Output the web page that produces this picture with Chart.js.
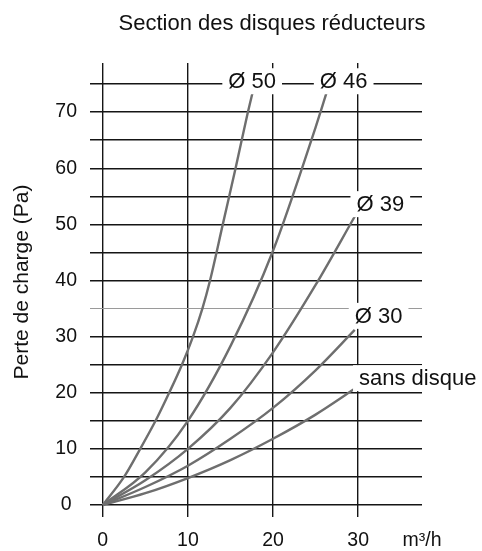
<!DOCTYPE html>
<html>
<head>
<meta charset="utf-8">
<script src="https://cdn.jsdelivr.net/npm/chart.js@4"></script>
<style>
  html, body { margin: 0; padding: 0; background: #fff; }
  #wrap { width: 482px; height: 551px; position: relative; }
</style>
</head>
<body>
<div id="wrap"><canvas id="c"></canvas></div>
<script>
// ---- data ----
const chartTitle = 'Section des disques réducteurs';
const yTitle = 'Perte de charge (Pa)';
const xUnit = 'm³/h';
const seriesNames = ['Ø 50', 'Ø 46', 'Ø 39', 'Ø 30', 'sans disque'];

const flow50 = [0, 2.5, 4.4, 6.2, 7.8, 9.3, 10.6, 11.7, 12.6, 14.1, 15.6, 17.05, 17.6];
const loss50 = [0, 5, 10, 15, 20, 25, 30, 35, 40, 50, 60, 70, 73.5];

const flow46 = [0, 5, 10, 15, 20, 25, 26.3];
const loss46 = [0, 5.8, 15, 28.3, 45.3, 67.3, 73.5];

const flow39 = [0, 5, 10, 15, 20, 25, 29.6];
const loss39 = [0, 4.4, 10, 17.3, 27.2, 39.2, 51.4];

const flow30 = [0, 5, 10, 15, 20, 25, 29.6];
const loss30 = [0, 3.2, 7.0, 11.8, 17.3, 24.0, 31.2];

const flowSans = [0, 5, 10, 15, 20, 25, 29.6];
const lossSans = [0, 2.1, 4.8, 8.0, 11.8, 16.1, 20.7];

const xTicks = [0, 10, 20, 30];
const yTicks = [0, 5, 10, 15, 20, 25, 30, 35, 40, 45, 50, 55, 60, 65, 70, 75];

// ---- build ----
const flows = [flow50, flow46, flow39, flow30, flowSans];
const losses = [loss50, loss46, loss39, loss30, lossSans];
const FONT = "'Liberation Sans', Arial, Helvetica, sans-serif";
const UNIT_POS = 37.5;

// label anchors in data space (centre of each curve label)
const labelAnchors = [[17.55, 75.5], [28.3, 75.5], [32.6, 53.6], [32.4, 33.7], [37.0, 22.6]];

const datasets = seriesNames.map((name, i) => ({
  label: name,
  data: flows[i].map((x, k) => ({ x: x, y: losses[i][k] })),
  borderColor: '#6e6e6e',
  borderWidth: 2.4,
  pointRadius: 0,
  fill: false,
  cubicInterpolationMode: 'monotone'
}));

const labelPlugin = {
  id: 'curveLabels',
  afterDatasetsDraw(chart) {
    const ctx = chart.ctx;
    const xs = chart.scales.x, ys = chart.scales.y;
    ctx.save();
    ctx.font = '22px ' + FONT;
    ctx.textAlign = 'center';
    ctx.textBaseline = 'middle';
    seriesNames.forEach((name, i) => {
      const px = xs.getPixelForValue(labelAnchors[i][0]);
      const py = ys.getPixelForValue(labelAnchors[i][1]);
      const w = ctx.measureText(name).width + 12;
      const h = 26;
      ctx.fillStyle = '#ffffff';
      ctx.fillRect(px - w / 2, py - h / 2, w, h);
      ctx.fillStyle = '#111111';
      ctx.fillText(name, px, py + 1);
    });
    // chart title
    ctx.font = '22px ' + FONT;
    ctx.fillStyle = '#111111';
    ctx.fillText(chartTitle, 272, 24);
    // y axis title
    ctx.font = '21px ' + FONT;
    ctx.translate(22.5, (chart.chartArea.top + chart.chartArea.bottom) / 2 - 8);
    ctx.rotate(-Math.PI / 2);
    ctx.fillText(yTitle, 0, 0);
    ctx.restore();
  }
};

new Chart(document.getElementById('c'), {
  type: 'line',
  data: { datasets: datasets },
  options: {
    responsive: true,
    maintainAspectRatio: false,
    animation: false,
    layout: { padding: { left: 0, right: 60, top: 63, bottom: 0 } },
    plugins: {
      legend: { display: false },
      tooltip: { enabled: false },
      title: { display: false }
    },
    scales: {
      x: {
        type: 'linear',
        min: -1.5,
        max: UNIT_POS,
        afterBuildTicks(scale) {
          scale.ticks = xTicks.concat([UNIT_POS]).map(v => ({ value: v }));
        },
        afterFit(scale) { scale.height = 34; },
        border: { display: false },
        grid: {
          drawTicks: false,
          color: (c) => (c.tick && c.tick.value === UNIT_POS) ? 'rgba(0,0,0,0)' : '#151515',
          lineWidth: 1.4
        },
        ticks: {
          autoSkip: false,
          maxRotation: 0,
          padding: 12,
          color: '#111',
          font: { family: FONT, size: 19.5 },
          callback: (v) => v === UNIT_POS ? xUnit : String(v)
        }
      },
      y: {
        type: 'linear',
        min: -2.14,
        max: 78.75,
        afterBuildTicks(scale) {
          scale.ticks = yTicks.map(v => ({ value: v }));
        },
        afterFit(scale) { scale.width = 90; },
        border: { display: false },
        grid: {
          drawTicks: false,
          color: (c) => (c.tick && c.tick.value === 35) ? '#9a9a9a' : '#151515',
          lineWidth: (c) => (c.tick && c.tick.value === 35) ? 1 : 1.4
        },
        ticks: {
          autoSkip: false,
          crossAlign: 'center',
          padding: 13,
          color: '#111',
          font: { family: FONT, size: 19.5 },
          callback: (v) => (v % 10 === 0 && v <= 70) ? String(v) : ''
        }
      }
    }
  },
  plugins: [labelPlugin]
});
</script>
</body>
</html>
